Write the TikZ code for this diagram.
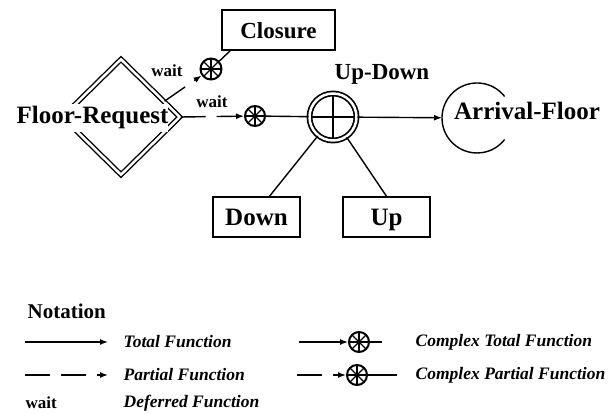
\documentclass[tikz,border=0pt]{standalone}
\usepackage{fontspec}
\setmainfont{Liberation Serif}
\usetikzlibrary{positioning, arrows.meta, shapes.geometric}

\begin{document}
\begin{tikzpicture}[
    x=1pt, y=1pt,
    line width=1.4pt,
    >={Latex[length=8pt, width=6pt]},
    lbl/.style={font=\fontsize{25}{25}\selectfont\bfseries, inner sep=0pt},
    midlbl/.style={font=\fontsize{23}{23}\selectfont\bfseries, inner sep=0pt},
    tag/.style={font=\fontsize{17}{17}\selectfont\bfseries, inner sep=0pt},
    note/.style={font=\fontsize{17.5}{17.5}\selectfont\bfseries\itshape, inner sep=0pt, anchor=west},
    box/.style={draw, rectangle, minimum width=87pt, minimum height=40pt, text height=16.5pt, text depth=0pt},
    total/.style={->},
    partial/.style={->, dash pattern=on 25pt off 11pt},
    wheel/.style={circle, draw, line width=2pt, minimum size=20pt, inner sep=0pt,
        path picture={\foreach \a in {0,45,...,315}
            \draw[line width=1.3pt] (path picture bounding box.center) -- ++(\a:12pt);}},
    xorcirc/.style={circle, draw, double, double distance=2.5pt, line width=1.7pt, minimum size=47pt, inner sep=0pt,
        path picture={\draw[line width=1.5pt]
            ([yshift=21pt]path picture bounding box.center) -- ([yshift=-21pt]path picture bounding box.center)
            ([xshift=-21pt]path picture bounding box.center) -- ([xshift=21pt]path picture bounding box.center);}}
]
    \useasboundingbox (0,0) rectangle (613,414);

    % Main diagram
    \node[draw, diamond, double, double distance=2.5pt, minimum width=118pt, minimum height=116pt, inner sep=0pt] (floor) at (121,297) {};
    \node[lbl, fill=white, inner ysep=3pt, anchor=base] (floorlbl) at (92.5,290) {Floor-Request};

    \node[box, midlbl, minimum width=113pt] (closure) at (278.5,384) {Closure};
    \node[box, lbl] (down) at (256.5,197) {Down};
    \node[box, lbl] (up) at (386.5,197) {Up};

    \node[xorcirc] (updown) at (333,297) {};
    \node[midlbl, anchor=base] (updownlbl) at (382,334) {Up-Down};

    \node[circle, minimum size=70pt, inner sep=0pt, outer sep=0pt] (arrival) at (477,296) {};
    \draw ([shift={(38:35pt)}]arrival.center) arc[start angle=38, end angle=322, radius=35pt];
    \node[lbl, anchor=base] (arrivallbl) at (527,294) {Arrival-Floor};

    \node[wheel, minimum size=21pt] (wclose) at (211,345) {};
    \node[wheel] (wup) at (255,298) {};

    % Connectors
    \draw[partial] (floor.20) -- (wclose);
    \draw (wclose) -- ([xshift=9pt]closure.south west);
    \draw[partial] (floor.east) -- (wup);
    \draw (wup) -- (updown);
    \draw[total] (updown) -- (arrival);
    \draw (updown) -- ([xshift=13pt]down.north);
    \draw (updown) -- (up.north);

    \node[tag, anchor=base] (wait1) at (167,337) {wait};
    \node[tag, anchor=base] (wait2) at (212,306) {wait};

    % Notation
    \node[font=\fontsize{21}{21}\selectfont\bfseries, inner sep=0pt, anchor=west] (notation) at (27,103) {Notation};

    \coordinate (t0) at (25,72);
    \coordinate[right=83pt of t0] (t1);
    \draw[total] (t0) -- (t1);
    \node[note, right=15pt of t1] (tfun) {Total Function};

    \coordinate (p0) at (25,39);
    \coordinate[right=83pt of p0] (p1);
    \draw[partial] (p0) -- (p1);
    \node[note, right=15pt of p1] (pfun) {Partial Function};

    \node[tag, anchor=west] (waitn) at (25,11) {wait};
    \node[note] (dfun) at (123,11) {Deferred Function};

    \coordinate (ct0) at (299,72);
    \node[wheel] (ctw) at (359,72) {};
    \coordinate (ct1) at (382,72);
    \draw[total] (ct0) -- (ctw);
    \draw (ctw) -- (ct1);
    \node[note] (ctfun) at (415,72) {Complex Total Function};

    \coordinate (cp0) at (297,39);
    \node[wheel] (cpw) at (357,39) {};
    \coordinate (cp1) at (397,39);
    \draw[partial] (cp0) -- (cpw);
    \draw (cpw) -- (cp1);
    \node[note] (cpfun) at (415,39) {Complex Partial Function};
\end{tikzpicture}
\end{document}
